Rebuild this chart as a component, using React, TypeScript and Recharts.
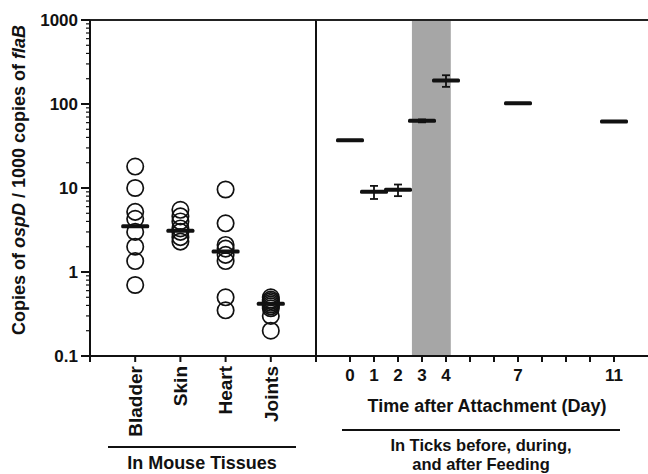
import { ScatterChart, Scatter, XAxis, YAxis, ErrorBar, ReferenceArea, ReferenceLine } from "recharts";

const FONT = '"Liberation Sans", Arial, Helvetica, sans-serif';
const INK = "#111";

// left panel: copies in mouse tissues (one circle per mouse)
const TISSUES = ["Bladder", "Skin", "Heart", "Joints"];
const BLADDER = [18, 10, 5.2, 4.3, 3.0, 2.0, 1.35, 0.7];
const SKIN = [5.5, 4.6, 4.0, 3.3, 3.0, 2.6, 2.3];
const HEART = [9.6, 3.8, 2.1, 1.9, 1.6, 1.35, 0.5, 0.35];
const JOINTS = [0.5, 0.47, 0.45, 0.43, 0.41, 0.39, 0.37, 0.3, 0.2];
const TISSUE_MEDIANS = [3.5, 3.1, 1.75, 0.42];

// right panel: ticks before, during and after feeding
const DAYS = [0, 1, 2, 3, 4, 7, 11];
const TICK_MEANS = [37, 9, 9.5, 63, 190, 102, 62];
const TICK_ERRORS = [0, 1.6, 1.5, 2.5, 30, 0, 0];
const DAY_TICKS = [0, 1, 2, 3, 4, 5, 6, 7, 8, 9, 10, 11];
const DAY_LABELS = [0, 1, 2, 3, 4, 7, 11];
const FEEDING_WINDOW = [2.58, 4.2];

const Y_MAJOR = [0.1, 1, 10, 100, 1000];
const Y_DECADES = [0.1, 1, 10, 100];
const Y_MINOR_STEPS = [2, 3, 4, 5, 6, 7, 8, 9];
const Y_TICKS = [...Y_MAJOR, ...Y_DECADES.flatMap((d) => Y_MINOR_STEPS.map((m) => d * m))];

const tissueSeries = [BLADDER, SKIN, HEART, JOINTS];
const tissuePoints = tissueSeries.flatMap((vals, i) => vals.map((v) => ({ x: i + 1, y: v })));
const medianPoints = TISSUE_MEDIANS.map((v, i) => ({ x: i + 1, y: v }));
const dayPoints = DAYS.map((d, i) => ({ x: d, y: TICK_MEANS[i], err: TICK_ERRORS[i] }));

const OpenCircle = (props: any) => (
  <circle cx={props.cx} cy={props.cy} r={8.2} fill="none" stroke={INK} strokeWidth={1.7} />
);

const Dash = (props: any) => (
  <rect x={props.cx - 14} y={props.cy - 2} width={28} height={4} rx={1.5} fill={INK} />
);

const YTick = (props: any) => {
  const { x, y, payload } = props;
  const major = Y_MAJOR.includes(payload.value);
  const len = major ? 9 : 4;
  return (
    <g>
      <line x1={x - len} x2={x} y1={y} y2={y} stroke={INK} strokeWidth={major ? 2 : 1.2} />
      {major && (
        <text x={x - 12} y={y} dy="0.36em" textAnchor="end" fontFamily={FONT} fontWeight="bold" fontSize={17} fill={INK}>
          {payload.value}
        </text>
      )}
    </g>
  );
};

const TissueTick = (props: any) => {
  const { x, y, payload } = props;
  const label = TISSUES[payload.value - 1];
  if (!label) return <g />;
  const ty = y + 2;
  return (
    <text
      x={x}
      y={ty}
      dy="0.36em"
      transform={`rotate(-90 ${x} ${ty})`}
      textAnchor="end"
      fontFamily={FONT}
      fontWeight="bold"
      fontSize={19}
      fill={INK}
    >
      {label}
    </text>
  );
};

const DayTick = (props: any) => {
  const { x, y, payload } = props;
  if (!DAY_LABELS.includes(payload.value)) return <g />;
  return (
    <text x={x} y={y + 17} textAnchor="middle" fontFamily={FONT} fontWeight="bold" fontSize={17} fill={INK}>
      {payload.value}
    </text>
  );
};

const axisStroke = { stroke: INK, strokeWidth: 2 };

export default function App() {
  const textProps = { fontFamily: FONT, fontWeight: "bold" as const, fill: INK };
  return (
    <div style={{ position: "absolute", left: 0, top: 0, width: 648, height: 474, background: "#fff", overflow: "hidden" }}>
      <div style={{ position: "absolute", left: 0, top: 0 }}>
        <ScatterChart width={330} height={474} margin={{ top: 20, right: 14, bottom: 38, left: 0 }}>
          <XAxis
            type="number"
            dataKey="x"
            domain={[0, 5]}
            ticks={[0, 1, 2, 3, 4, 5]}
            interval={0}
            height={80}
            tickSize={6}
            axisLine={axisStroke}
            tickLine={axisStroke}
            tick={<TissueTick />}
            allowDataOverflow
          />
          <YAxis
            type="number"
            dataKey="y"
            scale="log"
            domain={[0.1, 1000]}
            ticks={Y_TICKS}
            interval={0}
            width={90}
            tickSize={0}
            tickMargin={0}
            tickLine={false}
            axisLine={axisStroke}
            tick={<YTick />}
            allowDataOverflow
          />
          <ReferenceLine y={1000} stroke="#222" strokeWidth={2} />
          <ReferenceLine x={5} stroke={INK} strokeWidth={2} />
          <Scatter data={tissuePoints} shape={<OpenCircle />} isAnimationActive={false} />
          <Scatter data={medianPoints} shape={<Dash />} isAnimationActive={false} />
        </ScatterChart>
      </div>
      <div style={{ position: "absolute", left: 316, top: 0 }}>
        <ScatterChart width={332} height={474} margin={{ top: 20, right: 0, bottom: 38, left: 0 }}>
          <XAxis
            type="number"
            dataKey="x"
            domain={[-34 / 24, 298 / 24]}
            ticks={DAY_TICKS}
            interval={0}
            height={80}
            tickSize={6}
            axisLine={axisStroke}
            tickLine={axisStroke}
            tick={<DayTick />}
            allowDataOverflow
          />
          <YAxis type="number" dataKey="y" scale="log" domain={[0.1, 1000]} hide allowDataOverflow />
          <ReferenceArea x1={FEEDING_WINDOW[0]} x2={FEEDING_WINDOW[1]} y1={0.1} y2={1000} fill="#a6a6a6" fillOpacity={1} stroke="none" />
          <ReferenceLine y={1000} stroke="#222" strokeWidth={2} />
          <Scatter data={dayPoints} shape={<Dash />} isAnimationActive={false}>
            <ErrorBar dataKey="err" direction="y" width={4} stroke={INK} strokeWidth={1.8} />
          </Scatter>
        </ScatterChart>
      </div>
      <svg width={648} height={474} style={{ position: "absolute", left: 0, top: 0, pointerEvents: "none" }}>
        <text x={25} y={180} transform="rotate(-90 25 180)" textAnchor="middle" fontSize={18} {...textProps}>
          Copies of <tspan fontStyle="italic">ospD</tspan> / 1000 copies of <tspan fontStyle="italic">flaB</tspan>
        </text>
        <line x1={108} x2={296} y1={447} y2={447} stroke={INK} strokeWidth={2} />
        <text x={202} y={469} textAnchor="middle" fontSize={18} {...textProps}>
          In Mouse Tissues
        </text>
        <text x={487} y={412} textAnchor="middle" fontSize={18} {...textProps}>
          Time after Attachment (Day)
        </text>
        <line x1={342} x2={620} y1={430} y2={430} stroke={INK} strokeWidth={2} />
        <text x={481} y={451} textAnchor="middle" fontSize={16.5} {...textProps}>
          In Ticks before, during,
        </text>
        <text x={481} y={470} textAnchor="middle" fontSize={16.5} {...textProps}>
          and after Feeding
        </text>
      </svg>
    </div>
  );
}
